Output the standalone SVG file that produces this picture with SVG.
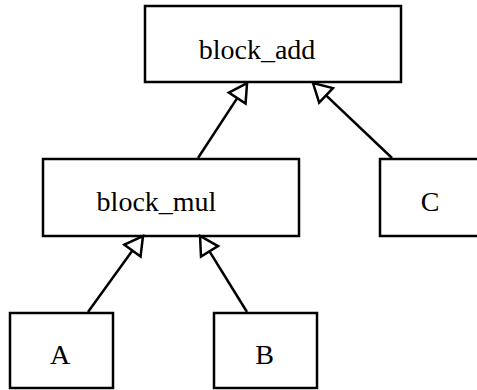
<svg xmlns="http://www.w3.org/2000/svg" width="477" height="390" viewBox="0 0 477 390">
  <style>
    .box { fill: #ffffff; stroke: #000000; stroke-width: 2.5; }
    .lbl { font-family: "Liberation Serif", "DejaVu Serif", serif; font-size: 28px; fill: #000000; text-anchor: middle; }
    .edge { fill: none; stroke: #000000; stroke-width: 2.5; marker-end: url(#hollow); }
  </style>
  <defs>
    <marker id="hollow" markerUnits="userSpaceOnUse" viewBox="-3 -13 24 26" markerWidth="24" markerHeight="26" refX="0" refY="0" orient="auto" overflow="visible">
      <path d="M0,-10 L18,0 L0,10 Z" fill="#ffffff" stroke="#000000" stroke-width="2.5" stroke-linejoin="miter"/>
    </marker>
  </defs>
  <rect width="477" height="390" fill="#ffffff"/>
  <g id="block_add">
    <rect class="box" x="145" y="6" width="256" height="76"/>
    <text class="lbl" x="257" y="59">block_add</text>
  </g>
  <g id="block_mul">
    <rect class="box" x="43" y="159" width="256" height="77"/>
    <text class="lbl" x="156.5" y="211">block_mul</text>
  </g>
  <g id="C">
    <rect class="box" x="380" y="159" width="103" height="77"/>
    <text class="lbl" x="430" y="211">C</text>
  </g>
  <g id="A">
    <rect class="box" x="10" y="313" width="103" height="75"/>
    <text class="lbl" x="60" y="364">A</text>
  </g>
  <g id="B">
    <rect class="box" x="214" y="313" width="103" height="75"/>
    <text class="lbl" x="264.5" y="364">B</text>
  </g>
  <g id="connectors">
    <path class="edge" d="M198,158 L237.2,98.1"/>
    <path class="edge" d="M392,158 L326.05,95.4"/>
    <path class="edge" d="M88,312 L132.45,250.6"/>
    <path class="edge" d="M247,312 L209.5,251.3"/>
  </g>
</svg>
